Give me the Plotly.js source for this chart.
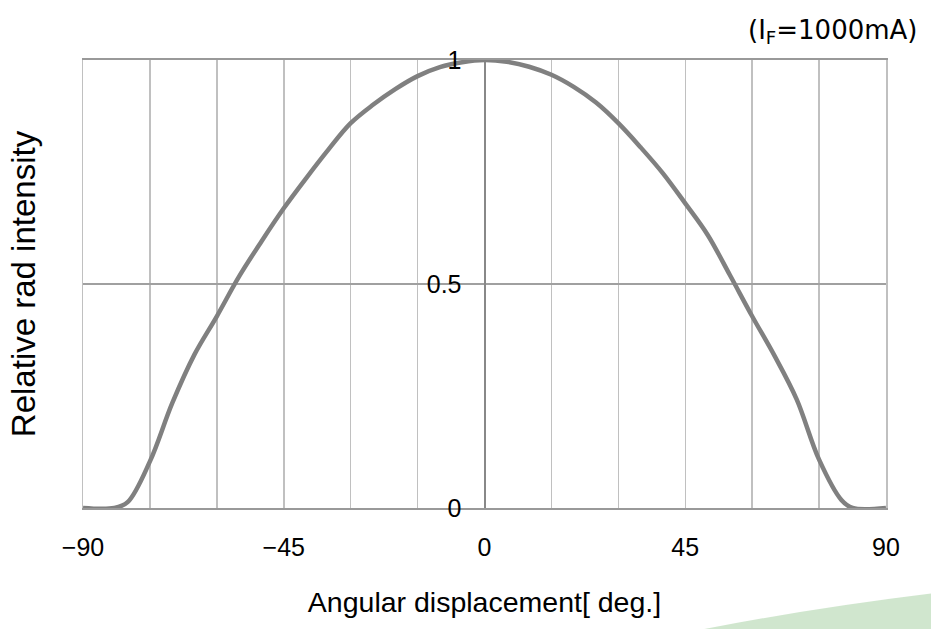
<!DOCTYPE html>
<html>
<head>
<meta charset="utf-8">
<script src="https://cdn.plot.ly/plotly-3.0.1.min.js"></script>
<style>html,body{margin:0;padding:0;background:#fff;}#chart{width:931px;height:629px;}</style>
</head>
<body>
<div id="chart"></div>
<script>
// Angular displacement (deg) and relative radiant intensity
var angles = [-90, -83, -80, -75, -70, -65, -60, -55, -50, -45, -40, -35, -30, -25, -20, -15, -10, -5, 0, 5, 10, 15, 20, 25, 30, 35, 40, 45, 50, 55, 60, 65, 70, 75, 80, 82.5, 90];
var intensity = [0, 0, 0.013, 0.104, 0.234, 0.343, 0.428, 0.517, 0.595, 0.669, 0.736, 0.80, 0.859, 0.90, 0.935, 0.964, 0.984, 0.995, 1.0, 0.996, 0.985, 0.967, 0.94, 0.905, 0.859, 0.805, 0.747, 0.68, 0.61, 0.52, 0.428, 0.34, 0.242, 0.108, 0.018, 0, 0];

var xTickVals = [-90, -45, 0, 45, 90];
var xTickText = ['\u221290', '\u221245', '0', '45', '90'];
var yTickVals = [0, 0.5, 1];
var yTickText = ['0', '0.5', '1'];

var xTitle = 'Angular displacement[ deg.]';
var yTitle = 'Relative rad intensity';
var noteText = '(I<sub>F</sub>=1000mA)';

var traces = [
  {
    x: angles, y: intensity, type: 'scatter', mode: 'lines',
    line: {color: '#808080', width: 4.5, shape: 'spline', smoothing: 1},
    hoverinfo: 'x+y', showlegend: false
  },
  {
    x: [], y: [], yaxis: 'y2', type: 'scatter', mode: 'lines', showlegend: false, hoverinfo: 'skip'
  }
];

var layout = {
  width: 931, height: 629,
  margin: {l: 83, r: 45, t: 60, b: 121},
  paper_bgcolor: '#ffffff', plot_bgcolor: '#ffffff',
  font: {family: 'Liberation Sans, Arial, sans-serif', color: '#000000', size: 24},
  showlegend: false,
  xaxis: {
    range: [-90, 90], fixedrange: true,
    tickmode: 'array', tickvals: xTickVals, ticktext: xTickText,
    ticks: 'outside', ticklen: 16, tickcolor: 'rgba(0,0,0,0)',
    tickfont: {family: 'Liberation Sans, Arial, sans-serif', size: 25, color: '#000'},
    showgrid: true, gridcolor: '#c0c0c0', gridwidth: 1.5,
    minor: {dtick: 15, tick0: 0, showgrid: true, gridcolor: '#c0c0c0', gridwidth: 1.5, ticks: ''},
    zeroline: true, zerolinecolor: '#888888', zerolinewidth: 2,
    showline: true, mirror: true, linecolor: '#999999', linewidth: 2,
    title: {text: xTitle, font: {family: 'Liberation Sans, Arial, sans-serif', size: 28.5, color: '#000'}, standoff: 32}
  },
  yaxis: {
    range: [0, 1], fixedrange: true,
    tickmode: 'array', tickvals: yTickVals, ticktext: yTickText,
    showticklabels: false, ticks: '',
    showgrid: true, gridcolor: '#a0a0a0', gridwidth: 1.5,
    zeroline: false,
    showline: true, mirror: true, linecolor: '#c0c0c0', linewidth: 1.5,
    title: {text: yTitle, font: {family: 'Liberation Sans, Arial, sans-serif', size: 33, color: '#000'}, standoff: 36}
  },
  yaxis2: {
    range: [0, 1], fixedrange: true, overlaying: 'y', anchor: 'free', position: 0.5, side: 'left',
    tickmode: 'array', tickvals: yTickVals, ticktext: yTickText,
    ticks: 'outside', ticklen: 18, tickcolor: 'rgba(0,0,0,0)',
    tickfont: {family: 'Liberation Sans, Arial, sans-serif', size: 25, color: '#000'},
    showgrid: false, zeroline: false, showline: false
  },
  annotations: [
    {
      text: noteText, xref: 'paper', yref: 'paper', x: 1.042, y: 1.064,
      xanchor: 'right', yanchor: 'middle', showarrow: false,
      font: {family: 'DejaVu Sans, Verdana, sans-serif', size: 26, color: '#000'}
    }
  ],
  shapes: [
    {
      type: 'path', xref: 'paper', yref: 'paper', layer: 'below',
      path: 'M 0.76,-0.275 Q 0.9,-0.225 1.06,-0.19 L 1.06,-0.275 Z',
      fillcolor: 'rgba(170,210,165,0.55)', line: {width: 0}
    }
  ]
};

Plotly.newPlot('chart', traces, layout, {displayModeBar: false, staticPlot: true});
</script>
</body>
</html>
